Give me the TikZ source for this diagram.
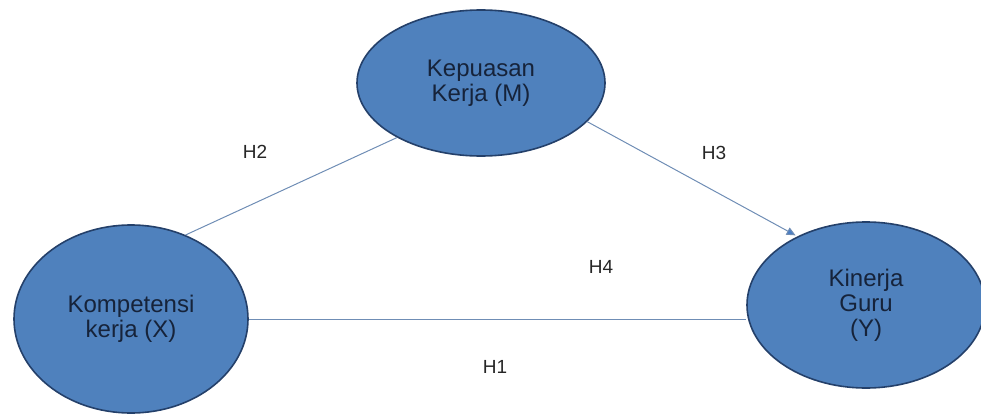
\documentclass[tikz,border=0pt]{standalone}
\usepackage{fontspec}
\setmainfont{Liberation Sans}
\usepackage{tikz}
\usetikzlibrary{arrows.meta, shapes.geometric}
\definecolor{varfill}{HTML}{4F81BD}
\definecolor{varedge}{HTML}{24406A}
\definecolor{vartext}{HTML}{16233A}
\definecolor{pathline}{HTML}{6F8DB5}
\definecolor{pathtip}{HTML}{4A7EC4}

\begin{document}
\begin{tikzpicture}[x=1pt, y=1pt,
  var/.style={ellipse, draw=varedge, line width=1.6pt, fill=varfill, inner sep=0pt,
    align=center, text=vartext, font=\fontsize{24}{25}\selectfont},
  hyp/.style={text=black!85, font=\fontsize{19}{20}\selectfont},
  link/.style={draw=pathline, line width=1pt}]
  \useasboundingbox (0,0) rectangle (981,416);
  % variables
  \node[var, minimum width=248, minimum height=146] (kepuasan) at (481,333) {Kepuasan\\Kerja (M)};
  \node[var, minimum width=234, minimum height=188] (kompetensi) at (131,97) {Kompetensi\\kerja (X)};
  \node[var, minimum width=238, minimum height=166] (kinerja) at (866,111) {Kinerja\\Guru\\(Y)};
  % paths
  \draw[link] (kompetensi.57) -- (kepuasan.213);
  \draw[link, -{Triangle[length=9pt, width=8pt, fill=pathtip]}, shorten >=2pt] (kepuasan.340) -- (kinerja.135);
  \draw[link] (kompetensi.east) -- (kompetensi.east -| kinerja.west);
  % hypotheses
  \node[hyp] (h2) at (255,264) {H2};
  \node[hyp] (h3) at (714,263) {H3};
  \node[hyp] (h4) at (601,149) {H4};
  \node[hyp] (h1) at (495,49) {H1};
\end{tikzpicture}
\end{document}
